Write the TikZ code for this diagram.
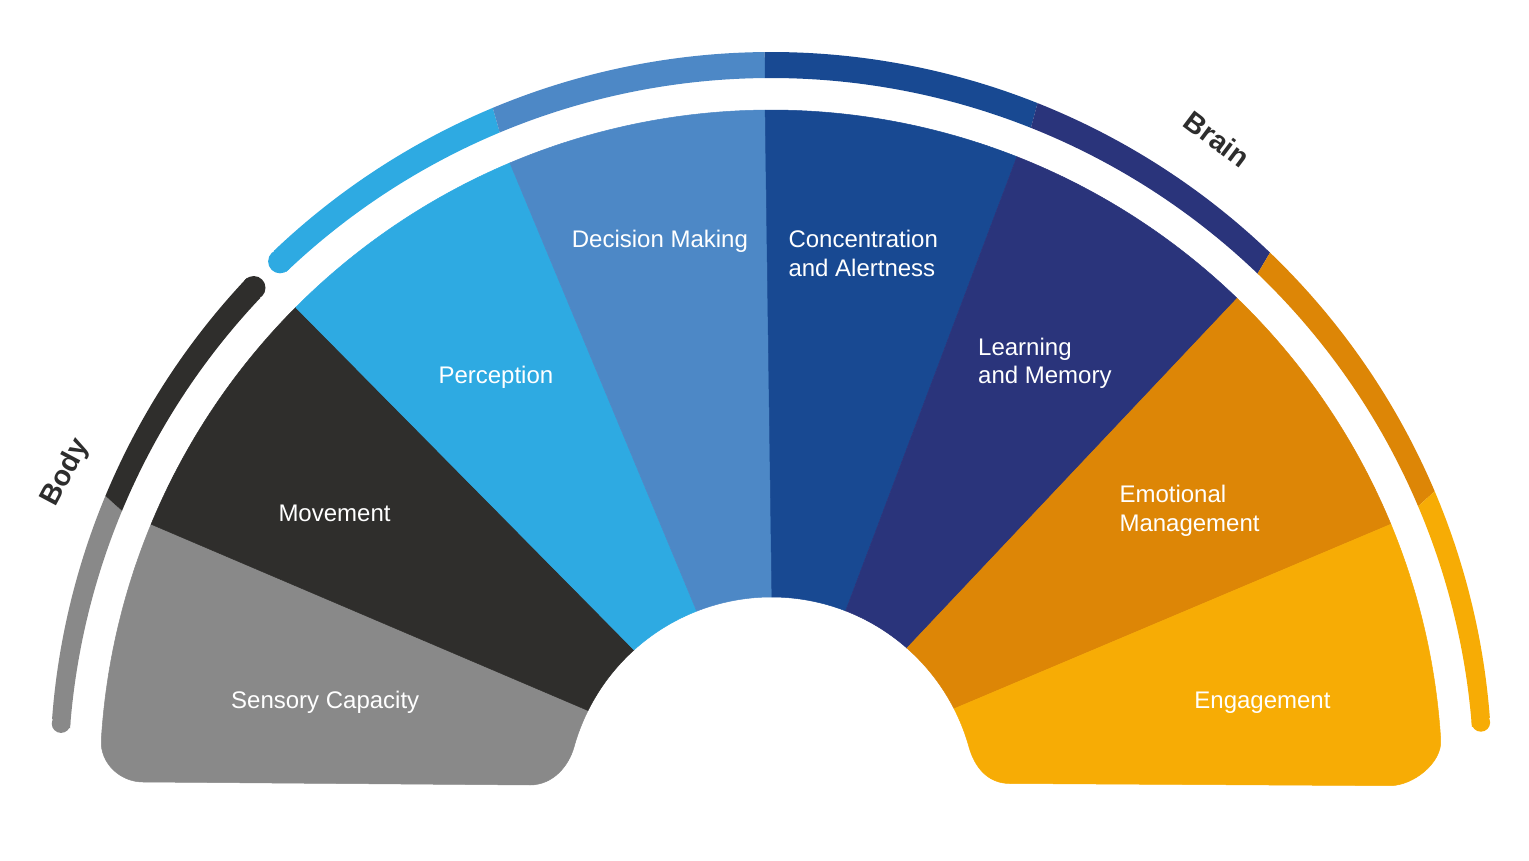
\documentclass[tikz,border=0pt]{standalone}
\usepackage{fontspec}
\setmainfont{Liberation Sans}
\usetikzlibrary{calc}
\definecolor{cgray}{HTML}{898989}
\definecolor{cblack}{HTML}{2F2E2C}
\definecolor{ccyan}{HTML}{2EAAE2}
\definecolor{cmblue}{HTML}{4D88C6}
\definecolor{cdblue}{HTML}{184992}
\definecolor{cnavy}{HTML}{2A347B}
\definecolor{corange}{HTML}{DD8606}
\definecolor{cyellow}{HTML}{F7AC05}
\definecolor{labeldark}{HTML}{2D2D2D}
\newcommand\ringpiece[3]{\fill[#1] ($(O)+(#2:703)$) arc[start angle=#2, end angle=#3, radius=703] -- ($(Op)+(#3:721)$) arc[start angle=#3, end angle=#2, radius=721] -- cycle;}
\begin{document}
\begin{tikzpicture}[x=1pt,y=1pt,
  lbl/.style={text=white, font=\fontsize{24}{28.5}\selectfont, inner sep=0pt, align=left},
  side/.style={text=labeldark, font=\fontsize{28.5}{31}\selectfont\bfseries, inner sep=0pt},
  seg/.style={fill=#1, draw=#1, line width=0.5pt, line join=round}]
\useasboundingbox (0,0) rectangle (1529,860);
\coordinate (O) at (771,79);
\coordinate (H) at (771.5,58);
\coordinate (Op) at (771,87);
\coordinate (M) at (771,83);
% segments
\path[seg=cgray] ($(H)+(153.5:205)$) -- ($(O)+(157.5:671)$) arc[start angle=157.5, end angle=176.5, radius=671]
  .. controls (99.9,97) and (120,78) .. (143,78) -- (530,75)
  .. controls (553,75.2) and (568.6,93.7) .. ($(H)+(164.44:205)$)
  arc[start angle=164.44, end angle=153.5, radius=205] -- cycle;
\path[seg=cblack] ($(H)+(153.5:205)$) -- ($(O)+(157.5:671)$) arc[start angle=157.5, end angle=135.1, radius=671]
  -- ($(H)+(132.1:205)$) arc[start angle=132.1, end angle=153.5, radius=205] -- cycle;
\path[seg=ccyan] ($(H)+(132.1:205)$) -- ($(O)+(135.1:671)$) arc[start angle=135.1, end angle=112.9, radius=671]
  -- ($(H)+(111.4:205)$) arc[start angle=111.4, end angle=132.1, radius=205] -- cycle;
\path[seg=cmblue] ($(H)+(111.4:205)$) -- ($(O)+(112.9:671)$) arc[start angle=112.9, end angle=90.5, radius=671]
  -- ($(H)+(89.9:205)$) arc[start angle=89.9, end angle=111.4, radius=205] -- cycle;
\path[seg=cdblue] ($(H)+(89.9:205)$) -- ($(O)+(90.5:671)$) arc[start angle=90.5, end angle=68.5, radius=671]
  -- ($(H)+(68.8:205)$) arc[start angle=68.8, end angle=89.9, radius=205] -- cycle;
\path[seg=cnavy] ($(H)+(68.8:205)$) -- ($(O)+(68.5:671)$) arc[start angle=68.5, end angle=46, radius=671]
  -- ($(H)+(48.65:205)$) arc[start angle=48.65, end angle=68.8, radius=205] -- cycle;
\path[seg=corange] ($(H)+(48.65:205)$) -- ($(O)+(46:671)$) arc[start angle=46, end angle=22.5, radius=671]
  -- ($(H)+(27.05:205)$) arc[start angle=27.05, end angle=48.65, radius=205] -- cycle;
\path[seg=cyellow] ($(H)+(27.05:205)$) -- ($(O)+(22.5:671)$) arc[start angle=22.5, end angle=3.5, radius=671]
  .. controls (1442.1,97) and (1413,74.3) .. (1390,74.3) -- (1010,76.5)
  .. controls (987,76.5) and (974.4,93.7) .. ($(H)+(15.56:205)$)
  arc[start angle=15.56, end angle=27.05, radius=205] -- cycle;
% outer ring
\ringpiece{cgray}{175.7}{157.4}
\ringpiece{cblack}{157.4}{136.6}
\ringpiece{ccyan}{133.6}{112.7}
\ringpiece{cmblue}{112.7}{90.5}
\ringpiece{cdblue}{90.5}{68.3}
\ringpiece{cnavy}{68.3}{46.2}
\ringpiece{corange}{46.2}{23.0}
\ringpiece{cyellow}{23.0}{4.4}
\fill[cgray] ($(M)+(175.7:712)$) circle[radius=9.3];
\fill[cblack] ($(M)+(136.6:712)$) circle[radius=11.8];
\fill[ccyan] ($(M)+(133.6:712)$) circle[radius=11.9];
\fill[cyellow] ($(M)+(4.4:712)$) circle[radius=9.3];
% labels
\node[lbl, anchor=base west] (sens) at (231,151.7) {Sensory Capacity};
\node[lbl, anchor=base west] (move) at (278.3,338.3) {Movement};
\node[lbl, anchor=base west] (perc) at (438.3,476.7) {Perception};
\node[lbl, anchor=base west] (deci) at (571.7,612.7) {Decision Making};
\node[lbl, anchor=north west] (conc) at (788.3,630) {Concentration\\and Alertness};
\node[lbl, anchor=north west] (lear) at (978,522.3) {Learning\\and Memory};
\node[lbl, anchor=north west] (emot) at (1119.3,374.6) {Emotional\\Management};
\node[lbl, anchor=base east] (enga) at (1330.7,151.7) {Engagement};
\node[side, rotate=62] (body) at (66,387) {Body};
\node[side, rotate=-37] (brain) at (1217,721) {Brain};
\end{tikzpicture}
\end{document}
